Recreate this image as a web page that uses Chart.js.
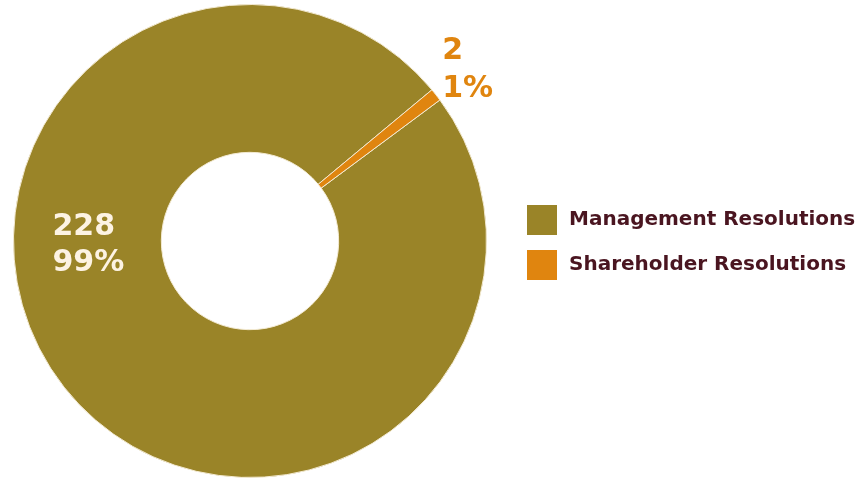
<!DOCTYPE html>
<html>
<head>
<meta charset="utf-8">
<script src="https://cdn.jsdelivr.net/npm/chart.js@4.4.0/dist/chart.umd.min.js"></script>
<style>
  html, body { margin: 0; padding: 0; background: #fff; }
  #wrap { position: relative; width: 861px; height: 479px; }
</style>
</head>
<body>
<div id="wrap"><canvas id="chart"></canvas></div>
<script>
const categories = ['Management Resolutions', 'Shareholder Resolutions'];
const counts = [228, 2];
const percents = ['99%', '1%'];
const colors = ['#9a8428', '#e0850f'];

const FONT = '"DejaVu Sans", sans-serif';

// etiquetas de valor sobre los segmentos
const valueLabels = {
  id: 'valueLabels',
  afterDatasetsDraw(chart) {
    const ctx = chart.ctx;
    const arcs = chart.getDatasetMeta(0).data;
    ctx.save();
    ctx.font = 'bold 30px ' + FONT;
    ctx.textBaseline = 'alphabetic';
    ctx.textAlign = 'left';
    arcs.forEach((arc, i) => {
      const { x, y, innerRadius, outerRadius, startAngle, endAngle } = arc.getProps(['x', 'y', 'innerRadius', 'outerRadius', 'startAngle', 'endAngle']);
      if (i === 0) {
        // dentro del anillo, lado izquierdo
        const r = (innerRadius + outerRadius) / 2;
        ctx.fillStyle = '#fdf3e3';
        ctx.fillText(String(counts[i]), x - r - 35, y - 6);
        ctx.fillText(percents[i], x - r - 35, y + 30);
      } else {
        // fuera del anillo, junto al segmento
        const mid = (startAngle + endAngle) / 2;
        const r = outerRadius + 8;
        const px = x + Math.cos(mid) * r;
        const py = y + Math.sin(mid) * r;
        ctx.fillStyle = colors[1];
        ctx.fillText(String(counts[i]), px, py - 31);
        ctx.fillText(percents[i], px, py + 7);
      }
    });
    ctx.restore();
  }
};

// leyenda a la derecha
const sideLegend = {
  id: 'sideLegend',
  afterDraw(chart) {
    const ctx = chart.ctx;
    ctx.save();
    ctx.font = 'bold 20px ' + FONT;
    ctx.textBaseline = 'middle';
    ctx.textAlign = 'left';
    categories.forEach((c, i) => {
      const top = 205 + i * 45;
      ctx.fillStyle = colors[i];
      ctx.fillRect(527, top, 30, 30);
      ctx.fillStyle = '#4a1520';
      ctx.fillText(c, 569, top + 15);
    });
    ctx.restore();
  }
};

new Chart(document.getElementById('chart'), {
  type: 'doughnut',
  data: {
    labels: categories,
    datasets: [{
      data: counts,
      backgroundColor: colors,
      borderColor: '#f3ead2',
      borderWidth: 1,
      hoverOffset: 0
    }]
  },
  options: {
    responsive: true,
    maintainAspectRatio: false,
    animation: false,
    cutout: '37.5%',
    rotation: 53.4,
    layout: { padding: { top: 4, bottom: 1, left: 13, right: 374 } },
    plugins: {
      legend: { display: false },
      tooltip: { enabled: false }
    }
  },
  plugins: [valueLabels, sideLegend]
});
</script>
</body>
</html>
